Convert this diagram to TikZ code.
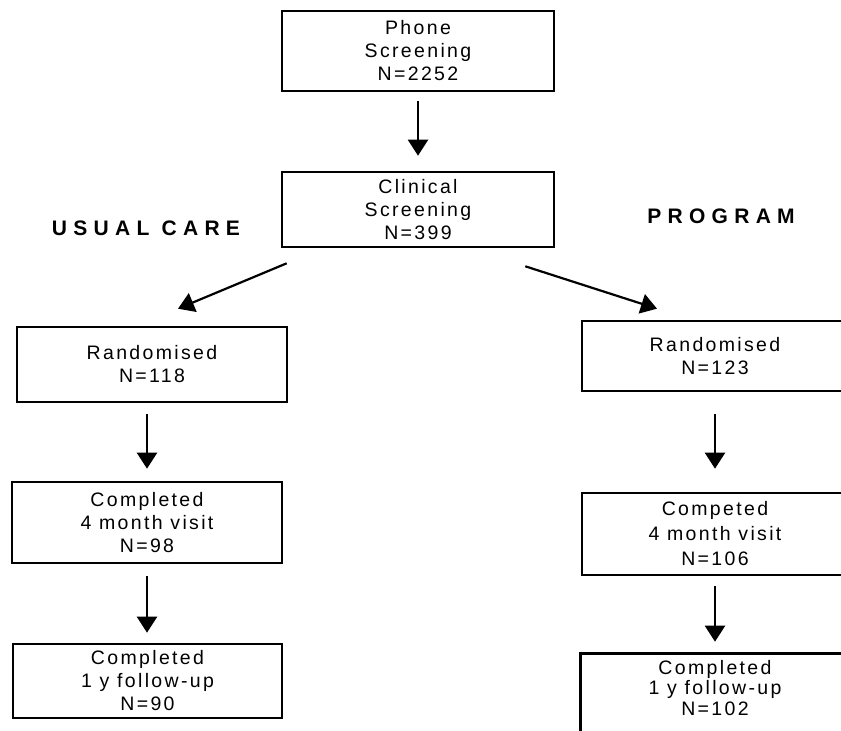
\documentclass[tikz,border=0pt]{standalone}
\usepackage{fontspec}
\setmainfont{Liberation Sans}
\newfontfamily\boxfont[LetterSpace=12]{Liberation Sans}
\newfontfamily\headfont[LetterSpace=30]{Liberation Sans}
\usetikzlibrary{arrows.meta}
\begin{document}
\begin{tikzpicture}[x=1pt,y=-1pt,
  stage/.style={draw, line width=2.6pt, align=center, inner sep=0pt,
    font=\boxfont\fontsize{19.5}{23}\selectfont},
  head/.style={font=\headfont\bfseries\fontsize{21}{24}\selectfont, inner sep=0pt},
  arr/.style={line width=2.2pt, -{Triangle[width=20pt,length=16pt]}}]
\useasboundingbox (0,0) rectangle (841,731);
\clip (0,0) rectangle (841,731);

\node[stage, minimum width=272pt, minimum height=80pt] (phone) at (418,51) {Phone\\Screening\\N=2252};
\node[stage, minimum width=272pt, minimum height=75pt] (clin) at (418,209.5) {Clinical\\Screening\\N=399};

\node[head] (uc) at (146,228) {USUAL\ CARE};
\node[head] (pg) at (721,216) {PROGRAM};

\node[stage, minimum width=270pt, minimum height=75pt] (lrand) at (152,364.5) {Randomised\\N=118};
\node[stage, minimum width=266pt, minimum height=70pt] (rrand) at (715,356) {Randomised\\N=123};

\node[stage, minimum width=270pt, minimum height=81pt] (lc4) at (147,522.5) {Completed\\4 month visit\\N=98};
\node[stage, minimum width=266pt, minimum height=82pt,
  font=\boxfont\fontsize{19.5}{25}\selectfont] (rc4) at (715,534) {Competed\\4 month visit\\N=106};

\node[stage, minimum width=269pt, minimum height=74pt] (l1y) at (147.5,681) {Completed\\1 y follow-up\\N=90};
\node[stage, draw=none, minimum width=266pt, minimum height=66pt,
  font=\boxfont\fontsize{19.5}{20.5}\selectfont] (r1y) at (715,688) {Completed\\1 y follow-up\\N=102};
\draw[line width=2.6pt] ([yshift=-20pt]r1y.south west) -- (r1y.north west) -- (r1y.north east) -- ([yshift=-20pt]r1y.south east);

\draw[arr, shorten <=9pt, shorten >=15pt] (phone.south) -- (clin.north);
\draw[arr] ([shift={(6,15)}]clin.south west) -- ([shift={(26,-17)}]lrand.north);
\draw[arr] ([shift={(-30,18)}]clin.south east) -- ([shift={(-58,-11)}]rrand.north);

\draw[arr, shorten <=11pt, shorten >=12pt] (lrand.south -| lc4.north) -- (lc4.north);
\draw[arr, shorten <=12pt, shorten >=10pt] (lc4.south) -- (lc4.south |- l1y.north);
\draw[arr, shorten <=22pt, shorten >=23pt] (rrand.south) -- (rc4.north);
\draw[arr, shorten <=10pt, shorten >=12pt] (rc4.south) -- (r1y.north);
\end{tikzpicture}
\end{document}
